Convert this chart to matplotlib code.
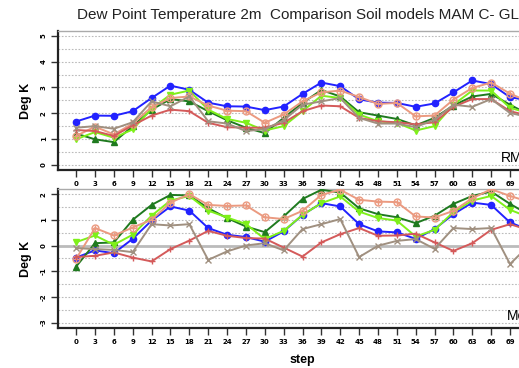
import matplotlib
matplotlib.use("Agg")
import matplotlib.pyplot as plt
import numpy as np

plt.rcParams['font.family'] = ['Liberation Sans', 'DejaVu Sans']

steps = list(range(0, 75, 3))

# RMSE per forecast step (top panel)
rmse_blue = [1.68, 1.91, 1.90, 2.08, 2.59, 3.07, 2.91, 2.41, 2.27, 2.26, 2.12, 2.26, 2.75,
             3.19, 3.05, 2.54, 2.41, 2.40, 2.25, 2.38, 2.81, 3.27, 3.13, 2.62, 2.50]
rmse_dkgreen = [1.21, 0.99, 0.88, 1.50, 2.14, 2.55, 2.46, 2.08, 1.73, 1.44, 1.23, 1.82, 2.40,
                2.90, 2.65, 2.04, 1.91, 1.78, 1.53, 1.82, 2.30, 2.65, 2.75, 2.33, 1.95]
rmse_ltgreen = [0.99, 1.27, 1.05, 1.37, 2.18, 2.72, 2.88, 2.14, 1.78, 1.63, 1.33, 1.50, 2.08,
                2.68, 2.59, 1.95, 1.69, 1.63, 1.33, 1.50, 2.33, 2.88, 2.88, 2.21, 2.00]
rmse_salmon = [1.12, 1.48, 1.18, 1.60, 2.24, 2.59, 2.65, 2.30, 2.10, 2.08, 1.63, 1.95, 2.46,
               2.81, 2.88, 2.63, 2.36, 2.40, 1.88, 1.91, 2.53, 2.98, 3.19, 2.76, 2.45]
rmse_red = [1.35, 1.31, 1.12, 1.53, 1.91, 2.14, 2.08, 1.63, 1.46, 1.44, 1.44, 1.63, 2.08,
            2.30, 2.27, 1.82, 1.69, 1.65, 1.57, 1.65, 2.25, 2.55, 2.55, 2.08, 1.90]
rmse_gray = [1.44, 1.50, 1.40, 1.65, 2.46, 2.27, 2.65, 1.69, 1.60, 1.31, 1.38, 1.73, 2.33,
             2.46, 2.59, 1.82, 1.60, 1.60, 1.46, 1.76, 2.33, 2.25, 2.55, 2.01, 1.85]

# Mean error per forecast step (bottom panel)
mean_blue = [-0.47, -0.19, -0.30, 0.26, 0.97, 1.52, 1.36, 0.68, 0.42, 0.33, 0.15, 0.55, 1.19,
             1.65, 1.52, 0.83, 0.55, 0.51, 0.26, 0.64, 1.22, 1.67, 1.58, 0.90, 0.60]
mean_dkgreen = [-0.82, 0.09, 0.12, 1.00, 1.58, 1.97, 1.95, 1.45, 1.07, 0.74, 0.52, 1.13, 1.81,
                2.17, 2.06, 1.45, 1.22, 1.10, 0.87, 1.16, 1.62, 1.93, 2.10, 1.62, 1.20]
mean_ltgreen = [0.13, 0.39, 0.03, 0.42, 1.16, 1.75, 1.93, 1.36, 1.09, 0.84, 0.25, 0.57, 1.19,
                1.65, 1.91, 1.32, 1.07, 0.97, 0.35, 0.61, 1.30, 1.75, 1.93, 1.39, 1.10]
mean_salmon = [-0.52, 0.68, 0.39, 0.70, 1.00, 1.67, 2.00, 1.58, 1.54, 1.56, 1.10, 1.03, 1.35,
               1.97, 2.17, 1.78, 1.71, 1.69, 1.13, 1.09, 1.35, 1.84, 2.19, 1.93, 1.70]
mean_red = [-0.45, -0.40, -0.27, -0.47, -0.62, -0.14, 0.19, 0.57, 0.38, 0.29, 0.27, -0.08, -0.43,
            0.12, 0.44, 0.68, 0.38, 0.39, 0.46, 0.12, -0.21, 0.09, 0.61, 0.83, 0.60]
mean_gray = [-0.10, -0.14, -0.17, -0.26, 0.83, 0.78, 0.83, -0.56, -0.23, 0.00, 0.09, -0.19, 0.64,
             0.83, 1.03, -0.45, -0.01, 0.18, 0.25, -0.13, 0.68, 0.64, 0.68, -0.72, 0.00]

# colour, marker; the salmon run gets an open circle with a '+' on top
styles = [
    ('#2222ff', 'o'),
    ('#1f7a1f', '^'),
    ('#7ff01a', 'v'),
    ('#eb9a80', 'oplus'),
    ('#d45a5a', '+'),
    ('#a09080', 'x'),
]

fig = plt.figure(figsize=(5.19, 3.68), dpi=100)
W, H = 519.0, 368.0
ax1 = fig.add_axes([58 / W, 1 - 170 / H, 489 / W, 139.3 / H])
ax2 = fig.add_axes([58 / W, 1 - 327.7 / H, 489 / W, 138.7 / H])


def draw(ax, series, ylim, label):
    ax.set_xlim(-2.88, 74.88)
    ax.set_ylim(*ylim)
    for y in np.arange(np.ceil(ylim[0] * 2) / 2, ylim[1], 0.5):
        if abs(y) < 1e-9 and ylim[0] < -1:
            ax.axhline(0, color='#bbbbbb', lw=2, zorder=1)
        else:
            ax.axhline(y, color='#bbbbbb', lw=0.8, ls=(0, (1.5, 1.5)), zorder=1)
    for vals, (c, m) in zip(series, styles):
        if m == 'oplus':
            ax.plot(steps, vals, color=c, lw=1.4, marker='o', ms=5, mew=1.0,
                    mfc='none', zorder=3)
            ax.plot(steps, vals, ls='none', color=c, marker='+', ms=5, mew=1.0, zorder=3)
        else:
            ax.plot(steps, vals, color=c, lw=1.4, marker=m, ms=4.5, mew=1.0, zorder=3)
    ax.set_xticks(steps)
    ax.set_xticklabels([str(s) for s in steps], fontsize=5, fontweight='bold',
                       family='DejaVu Sans')
    yt = np.arange(int(np.ceil(ylim[0])), int(np.floor(ylim[1])) + 1)
    ax.set_yticks(yt)
    ax.set_yticklabels([str(v) for v in yt], fontsize=5, fontweight='bold',
                       rotation=90, va='center', family='DejaVu Sans')
    ax.tick_params(axis='both', length=5, width=1, color='#333333', pad=3)
    ax.spines['right'].set_visible(False)
    ax.spines['top'].set_color('#aaaaaa')
    ax.spines['top'].set_linewidth(1.0)
    for side in ('left', 'bottom'):
        ax.spines[side].set_linewidth(1.6)
        ax.spines[side].set_color('#222222')
    ax.text(0.988, 0.035, label, transform=ax.transAxes, ha='right', va='bottom',
            fontsize=10)


draw(ax1, [rmse_blue, rmse_dkgreen, rmse_ltgreen, rmse_salmon, rmse_red, rmse_gray],
     (-0.2, 5.2), 'RMSE')
draw(ax2, [mean_blue, mean_dkgreen, mean_ltgreen, mean_salmon, mean_red, mean_gray],
     (-3.2, 2.2), 'Mean')

fig.text(77 / W, 1 - 15 / H, 'Dew Point Temperature 2m  Comparison Soil models MAM C- GLDAS',
         ha='left', va='center', fontsize=11, color='#222222')
fig.text(25.5 / W, 1 - 101 / H, 'Deg K', rotation=90, ha='center', va='center',
         fontsize=9, fontweight='bold')
fig.text(25.5 / W, 1 - 259 / H, 'Deg K', rotation=90, ha='center', va='center',
         fontsize=9, fontweight='bold')
fig.text(302 / W, 1 - 360 / H, 'step', ha='center', va='center',
         fontsize=9, fontweight='bold')

fig.savefig('out.png', dpi=100)
